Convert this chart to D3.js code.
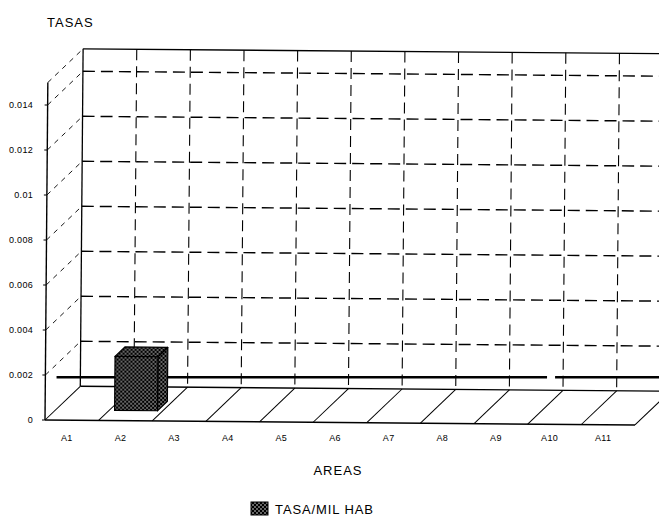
<!DOCTYPE html>
<html>
<head>
<meta charset="utf-8">
<script src="https://cdn.jsdelivr.net/npm/d3@7/dist/d3.min.js"></script>
<style>
  html, body { margin: 0; padding: 0; background: #fff; }
  svg { display: block; }
  text { font-family: "Liberation Sans", Arial, sans-serif; fill: #000; }
</style>
</head>
<body>
<svg id="chart" width="659" height="524"></svg>
<script>
// ---- data ----
const categories = ["A1", "A2", "A3", "A4", "A5", "A6", "A7", "A8", "A9", "A10", "A11"];
const values = [0, 0.0024, 0, 0, 0, 0, 0, 0, 0, 0, 0];
const yTicks = [0, 0.002, 0.004, 0.006, 0.008, 0.01, 0.012, 0.014];
const yMax = 0.015;
const refValue = 0.0019;
const yTitle = "TASAS";
const xTitle = "AREAS";
const seriesName = "TASA/MIL HAB";

// ---- layout ----
const W = 659, H = 524;
const X0 = 45, X1 = 635, Y0 = 420, YT = 82.5;
const DX = 35, DY = -34;           // depth offset
const TILT = 0.48;                  // slight scan rotation

const svg = d3.select("#chart");
const x = d3.scaleBand().domain(categories).range([X0, X1]).padding(0);
const y = d3.scaleLinear().domain([0, yMax]).range([Y0, YT]);
const bw = x.bandwidth();

const defs = svg.append("defs");
const pat = defs.append("pattern").attr("id", "dots")
  .attr("patternUnits", "userSpaceOnUse").attr("width", 4).attr("height", 4);
pat.append("rect").attr("width", 4).attr("height", 4).attr("fill", "#000");
pat.append("circle").attr("cx", 1).attr("cy", 1).attr("r", 0.75).attr("fill", "#fff");
pat.append("circle").attr("cx", 3).attr("cy", 3).attr("r", 0.75).attr("fill", "#fff");

const g = svg.append("g").attr("transform", `rotate(${TILT},${X0},${Y0})`);

const boundaries = d3.range(categories.length + 1).map(i => X0 + i * bw);

// back wall
const backTop = y(yMax) + DY, backBot = Y0 + DY;
g.selectAll("line.hgrid").data(yTicks.filter(t => t > 0)).join("line")
  .attr("x1", X0 + DX).attr("x2", X1 + DX)
  .attr("y1", d => y(d) + DY).attr("y2", d => y(d) + DY)
  .attr("stroke", "#000").attr("stroke-width", 1.4).attr("stroke-dasharray", "12,6");
g.selectAll("line.vgrid").data(boundaries.slice(1)).join("line")
  .attr("x1", d => d + DX).attr("x2", d => d + DX)
  .attr("y1", backTop).attr("y2", backBot)
  .attr("stroke", "#000").attr("stroke-width", 1.1).attr("stroke-dasharray", "11,6");
g.append("line").attr("x1", X0 + DX).attr("x2", X1 + DX + 30).attr("y1", backTop).attr("y2", backTop)
  .attr("stroke", "#000").attr("stroke-width", 1.3);
g.append("line").attr("x1", X0 + DX).attr("x2", X0 + DX).attr("y1", backTop).attr("y2", backBot)
  .attr("stroke", "#000").attr("stroke-width", 1.3);

// left wall diagonals
g.selectAll("line.ldiag").data(yTicks.filter(t => t > 0).concat([yMax])).join("line")
  .attr("x1", X0).attr("y1", d => y(d))
  .attr("x2", X0 + DX).attr("y2", d => y(d) + DY)
  .attr("stroke", "#000").attr("stroke-width", 0.9).attr("stroke-dasharray", "5,5");

// floor
g.append("line").attr("x1", X0).attr("x2", X1).attr("y1", Y0).attr("y2", Y0)
  .attr("stroke", "#000").attr("stroke-width", 1.5);
g.append("line").attr("x1", X0 + DX).attr("x2", X1 + DX).attr("y1", Y0 + DY).attr("y2", Y0 + DY)
  .attr("stroke", "#000").attr("stroke-width", 1.4);
g.selectAll("line.fdiag").data(boundaries).join("line")
  .attr("x1", d => d).attr("y1", Y0).attr("x2", d => d + DX).attr("y2", Y0 + DY)
  .attr("stroke", "#000").attr("stroke-width", 1);

// front value axis
g.append("line").attr("x1", X0).attr("x2", X0).attr("y1", Y0).attr("y2", y(yMax))
  .attr("stroke", "#000").attr("stroke-width", 1.4);
g.selectAll("line.tick").data(yTicks).join("line")
  .attr("x1", X0 - 3).attr("x2", X0).attr("y1", d => y(d)).attr("y2", d => y(d))
  .attr("stroke", "#000").attr("stroke-width", 1);

// reference line (behind bars)
const refY = y(refValue);
const gapA = x("A10") + 0.36 * bw, gapB = x("A10") + 0.51 * bw;
[[X0 + DX * 0.33, gapA], [gapB, W + 10]].forEach(([a, b]) => {
  svg.append("line").attr("x1", a).attr("x2", b).attr("y1", refY).attr("y2", refY)
    .attr("stroke", "#000").attr("stroke-width", 2.6);
});

// bars (3D boxes)
const f1 = 0.3, f2 = 0.58;
const bars = svg.append("g").attr("transform", `rotate(${TILT},${X0},${Y0})`);
categories.forEach((c, i) => {
  const v = values[i];
  if (!(v > 0)) return;
  const bx = x(c) + 0.1 * bw, w = 0.8 * bw;
  const fx = bx + DX * f1, ftop = y(v) + DY * f1, fbot = y(0) + DY * f1;
  const ox = DX * (f2 - f1), oy = DY * (f2 - f1);
  const stroke = { "stroke": "#000", "stroke-width": 1.2, "stroke-linejoin": "round" };
  const side = bars.append("polygon")
    .attr("points", [[fx + w, ftop], [fx + w + ox, ftop + oy], [fx + w + ox, fbot + oy], [fx + w, fbot]].join(" "))
    .attr("fill", "url(#dots)");
  const top = bars.append("polygon")
    .attr("points", [[fx, ftop], [fx + ox, ftop + oy], [fx + w + ox, ftop + oy], [fx + w, ftop]].join(" "))
    .attr("fill", "url(#dots)");
  const front = bars.append("rect").attr("x", fx).attr("y", ftop).attr("width", w).attr("height", fbot - ftop)
    .attr("fill", "url(#dots)");
  [side, top, front].forEach(s => Object.entries(stroke).forEach(([k, val]) => s.attr(k, val)));
});

// tick labels
svg.selectAll("text.ylab").data(yTicks).join("text")
  .attr("x", 33).attr("y", d => y(d) + 3)
  .attr("text-anchor", "end").attr("font-size", 9).attr("letter-spacing", 0.3)
  .text(d => d3.format("~g")(d));

// category labels
svg.selectAll("text.xlab").data(categories).join("text")
  .attr("x", d => x(d) + bw / 2 - 5).attr("y", 441)
  .attr("text-anchor", "middle").attr("font-size", 9).attr("letter-spacing", 0.3)
  .text(d => d);

// titles
svg.append("text").attr("x", 47).attr("y", 27).attr("font-size", 13).attr("letter-spacing", 1)
  .text(yTitle);
svg.append("text").attr("x", 338).attr("y", 475).attr("text-anchor", "middle")
  .attr("font-size", 13).attr("letter-spacing", 1).text(xTitle);

// legend
svg.append("rect").attr("x", 251).attr("y", 502).attr("width", 17).attr("height", 13)
  .attr("fill", "url(#dots)").attr("stroke", "#000").attr("stroke-width", 1);
svg.append("text").attr("x", 275).attr("y", 514).attr("font-size", 13).attr("letter-spacing", 0.9)
  .text(seriesName);
</script>
</body>
</html>
